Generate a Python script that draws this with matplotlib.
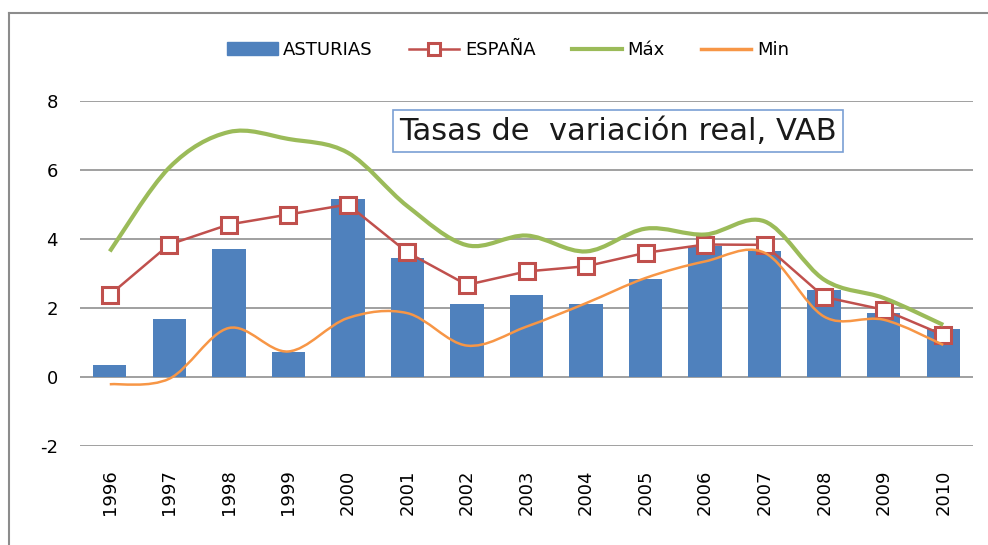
import matplotlib
matplotlib.use("Agg")
from matplotlib import pyplot as plt
from matplotlib.path import Path
from matplotlib.patches import PathPatch, Patch
from matplotlib.lines import Line2D
import numpy as np

plt.rcParams["axes.unicode_minus"] = False

years = ["1996", "1997", "1998", "1999", "2000", "2001", "2002", "2003",
         "2004", "2005", "2006", "2007", "2008", "2009", "2010"]
asturias = [0.35, 1.68, 3.72, 0.73, 5.16, 3.45, 2.12, 2.38, 2.12, 2.85, 3.79, 3.65, 2.51, 1.86, 1.39]
espana = [2.38, 3.84, 4.42, 4.71, 5.00, 3.61, 2.67, 3.06, 3.21, 3.60, 3.84, 3.83, 2.32, 1.95, 1.22]
maximo = [3.64, 6.07, 7.10, 6.90, 6.50, 4.95, 3.82, 4.10, 3.64, 4.30, 4.13, 4.51, 2.82, 2.29, 1.51]
minimo = [-0.21, -0.05, 1.42, 0.74, 1.71, 1.85, 0.91, 1.46, 2.14, 2.87, 3.35, 3.60, 1.75, 1.66, 0.93]

c_bar = "#4f81bd"
c_esp = "#c0504d"
c_max = "#9bbb59"
c_min = "#f79646"


def smooth_path(xs, ys):
    # Bezier through the points, like Excel's "smoothed line"
    pts = np.column_stack([xs, ys]).astype(float)
    verts = [pts[0]]
    codes = [Path.MOVETO]
    n = len(pts)
    for i in range(n - 1):
        p0 = pts[max(i - 1, 0)]
        p1 = pts[i]
        p2 = pts[i + 1]
        p3 = pts[min(i + 2, n - 1)]
        verts += [p1 + (p2 - p0) / 6, p2 - (p3 - p1) / 6, p2]
        codes += [Path.CURVE4] * 3
    return Path(verts, codes)


fig = plt.figure(figsize=(9.88, 5.45), dpi=100)
ax = fig.add_axes([80 / 988, 99 / 545, 893 / 988, 345 / 545])

x = np.arange(len(years))
ax.bar(x, asturias, width=0.56, color=c_bar, zorder=2)
ax.plot(x, espana, color=c_esp, lw=1.8, marker="s", ms=11.5, mfc="white",
        mec=c_esp, mew=2.2, zorder=3)
ax.add_patch(PathPatch(smooth_path(x, maximo), fill=False, ec=c_max, lw=3, zorder=4,
                       capstyle="butt"))
ax.add_patch(PathPatch(smooth_path(x, minimo), fill=False, ec=c_min, lw=1.8, zorder=5))

ax.set_xlim(-0.5, len(years) - 0.5)
ax.set_ylim(-2, 8)
ax.set_yticks(range(-2, 9, 2))
ax.set_xticks(x)
ax.set_xticklabels(years, rotation=90, fontsize=13, va="top")
ax.tick_params(axis="x", length=0, pad=17)
ax.tick_params(axis="y", length=0, pad=16, labelsize=13)
ax.yaxis.grid(True, color="#868686", lw=1.1, zorder=0)
ax.set_axisbelow(True)
for s in ax.spines.values():
    s.set_visible(False)

ax.text(0.357, 0.913, "Tasas de  variación real, VAB", transform=ax.transAxes,
        fontsize=22, color="#1a1a1a", va="center", ha="left",
        bbox=dict(boxstyle="square,pad=0.2", fc="white", ec="#7a9fd4", lw=1.2),
        zorder=6)

handles = [Patch(color=c_bar),
           Line2D([], [], color=c_esp, lw=1.8, marker="s", ms=9, mfc="white", mec=c_esp, mew=2.2),
           Line2D([], [], color=c_max, lw=3),
           Line2D([], [], color=c_min, lw=2.5)]
fig.legend(handles, ["ASTURIAS", "ESPAÑA", "Máx", "Min"], loc="center",
           bbox_to_anchor=(508 / 988, 1 - 50 / 545), ncol=4, frameon=False,
           fontsize=13, handlelength=2.8, handletextpad=0.3, columnspacing=2.0)

# outer chart frame
fig.add_artist(Line2D([9 / 988, 1], [1 - 13 / 545, 1 - 13 / 545], color="#8c8c8c", lw=1.5,
                      transform=fig.transFigure))
fig.add_artist(Line2D([9 / 988, 9 / 988], [0, 1 - 13 / 545], color="#8c8c8c", lw=1.5,
                      transform=fig.transFigure))

fig.savefig("out.png", dpi=100)
